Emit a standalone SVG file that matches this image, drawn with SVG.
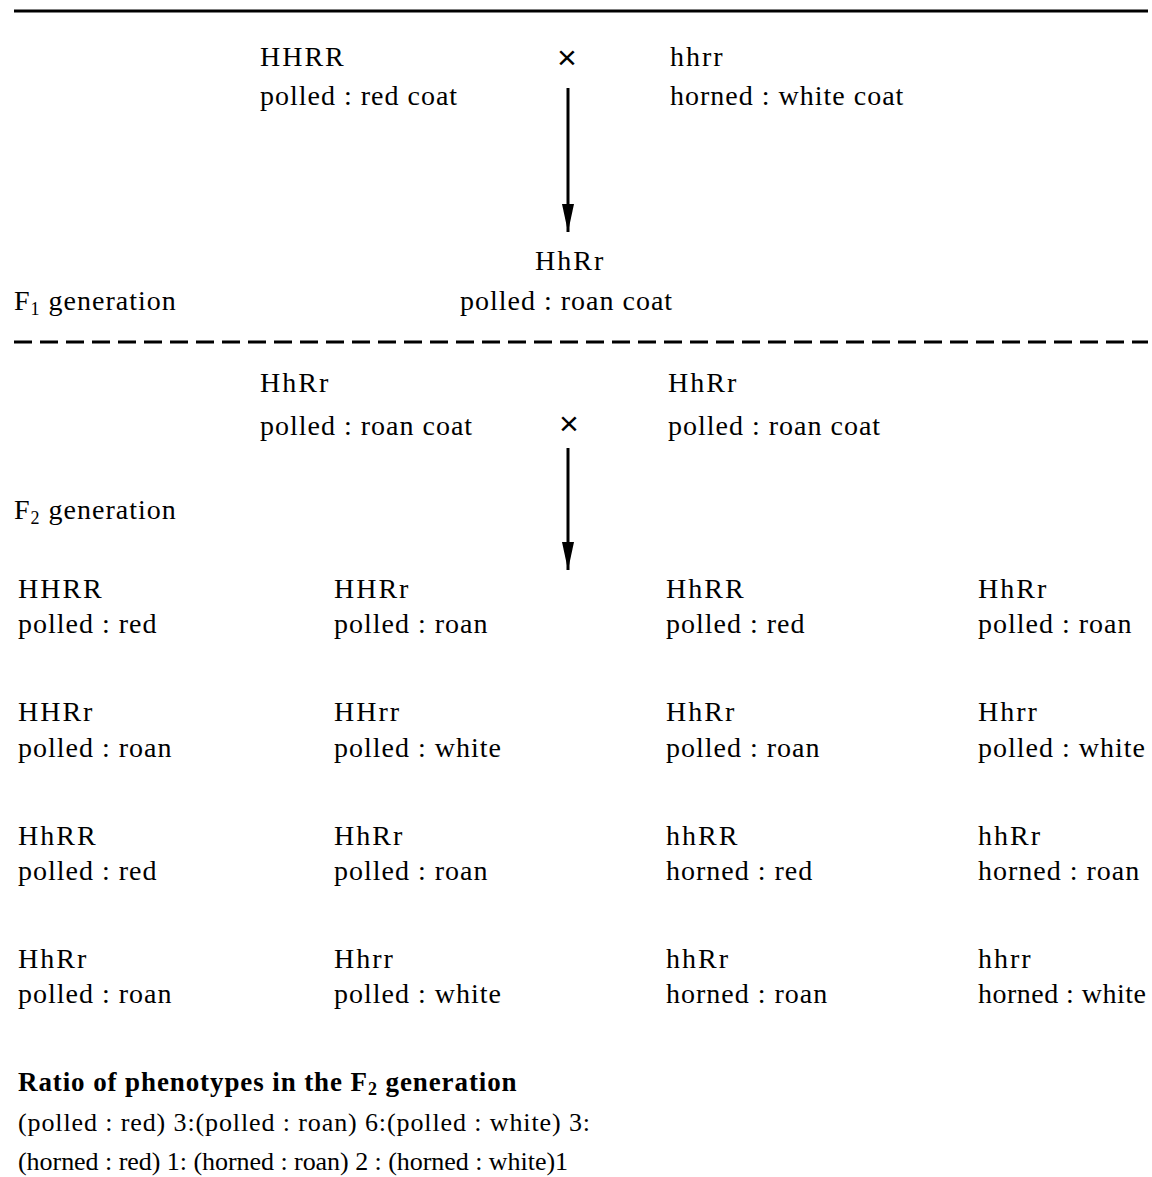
<svg xmlns="http://www.w3.org/2000/svg" width="1152" height="1177" viewBox="0 0 1152 1177">
<style>
text{font-family:"Liberation Serif","Times New Roman",serif;font-size:28px;fill:#000;letter-spacing:1px}
.g{font-size:28px;letter-spacing:2px}
.b{font-weight:bold;font-size:27px;letter-spacing:0.9px}
.r{font-size:26px;letter-spacing:0px}
.x{font-family:"Liberation Sans",Arial,sans-serif;font-size:34px}
.sub{font-size:18px}
</style>
<defs>
<marker id="ah" markerWidth="28" markerHeight="14" refX="28" refY="7" orient="auto" markerUnits="userSpaceOnUse" viewBox="0 0 28 14">
<path d="M0,1 L28,7 L0,13 Z" fill="#000"/>
</marker>
</defs>
<rect width="1152" height="1177" fill="#fff"/>
<g id="rules">
<line x1="14" y1="11" x2="1148" y2="11" stroke="#000" stroke-width="3"/>
<line x1="14" y1="342" x2="1148" y2="342" stroke="#000" stroke-width="3" stroke-dasharray="18 8"/>
</g>
<g id="connectors">
<line x1="568" y1="88" x2="568" y2="232" stroke="#000" stroke-width="3" marker-end="url(#ah)"/>
<line x1="568" y1="448" x2="568" y2="570" stroke="#000" stroke-width="3" marker-end="url(#ah)"/>
</g>
<g id="p-parent1"><text x="260" y="66" class="g">HHRR</text><text x="260" y="105">polled : red coat</text></g>
<g id="p-cross"><text x="557" y="69" class="x">×</text></g>
<g id="p-parent2"><text x="670" y="66" class="g">hhrr</text><text x="670" y="105">horned : white coat</text></g>
<g id="f1"><text x="535" y="270" class="g">HhRr</text><text x="460" y="310">polled : roan coat</text></g>
<g id="f1-label"><text x="14" y="310">F<tspan class="sub" dy="5">1</tspan><tspan dy="-5"> generation</tspan></text></g>
<g id="f1-parent1"><text x="260" y="392" class="g">HhRr</text><text x="260" y="435">polled : roan coat</text></g>
<g id="f1-cross"><text x="559" y="435" class="x">×</text></g>
<g id="f1-parent2"><text x="668" y="392" class="g">HhRr</text><text x="668" y="435">polled : roan coat</text></g>
<g id="f2-label"><text x="14" y="519">F<tspan class="sub" dy="5">2</tspan><tspan dy="-5"> generation</tspan></text></g>
<g id="r1c1"><text x="18" y="598" class="g">HHRR</text><text x="18" y="633">polled : red</text></g>
<g id="r1c2"><text x="334" y="598" class="g">HHRr</text><text x="334" y="633">polled : roan</text></g>
<g id="r1c3"><text x="666" y="598" class="g">HhRR</text><text x="666" y="633">polled : red</text></g>
<g id="r1c4"><text x="978" y="598" class="g">HhRr</text><text x="978" y="633">polled : roan</text></g>
<g id="r2c1"><text x="18" y="721" class="g">HHRr</text><text x="18" y="757">polled : roan</text></g>
<g id="r2c2"><text x="334" y="721" class="g">HHrr</text><text x="334" y="757">polled : white</text></g>
<g id="r2c3"><text x="666" y="721" class="g">HhRr</text><text x="666" y="757">polled : roan</text></g>
<g id="r2c4"><text x="978" y="721" class="g">Hhrr</text><text x="978" y="757">polled : white</text></g>
<g id="r3c1"><text x="18" y="845" class="g">HhRR</text><text x="18" y="880">polled : red</text></g>
<g id="r3c2"><text x="334" y="845" class="g">HhRr</text><text x="334" y="880">polled : roan</text></g>
<g id="r3c3"><text x="666" y="845" class="g">hhRR</text><text x="666" y="880">horned : red</text></g>
<g id="r3c4"><text x="978" y="845" class="g">hhRr</text><text x="978" y="880">horned : roan</text></g>
<g id="r4c1"><text x="18" y="968" class="g">HhRr</text><text x="18" y="1003">polled : roan</text></g>
<g id="r4c2"><text x="334" y="968" class="g">Hhrr</text><text x="334" y="1003">polled : white</text></g>
<g id="r4c3"><text x="666" y="968" class="g">hhRr</text><text x="666" y="1003">horned : roan</text></g>
<g id="r4c4"><text x="978" y="968" class="g">hhrr</text><text x="978" y="1003" textLength="169" lengthAdjust="spacing">horned : white</text></g>
<g id="ratio">
<text x="18" y="1091" class="b">Ratio of phenotypes in the F<tspan class="sub" dy="4">2</tspan><tspan dy="-4"> generation</tspan></text>
<text x="18" y="1131" class="r" textLength="572" lengthAdjust="spacing">(polled : red) 3:(polled : roan) 6:(polled : white) 3:</text>
<text x="18" y="1170" class="r" textLength="550" lengthAdjust="spacing">(horned : red) 1: (horned : roan) 2 : (horned : white)1</text>
</g>
</svg>
